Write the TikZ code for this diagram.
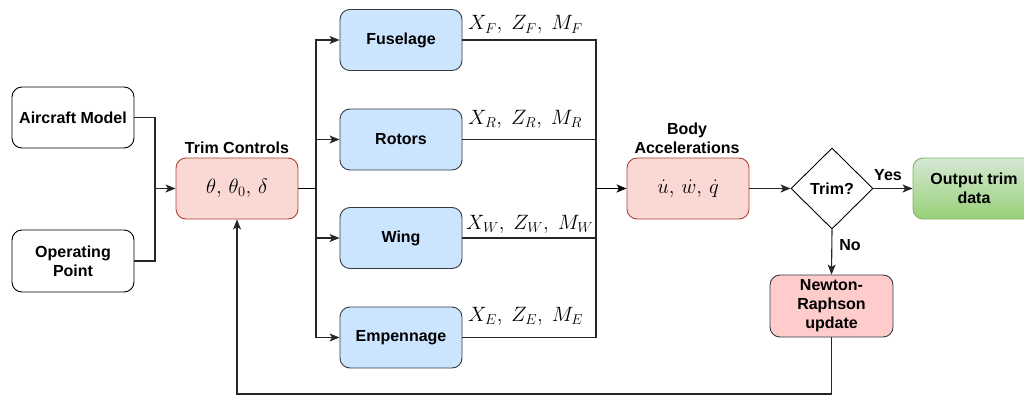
\documentclass[tikz,border=0pt]{standalone}
\usepackage{fontspec}
\setmainfont{Liberation Sans}
\usetikzlibrary{arrows.meta,shapes.geometric,positioning}
\definecolor{pinkfill}{HTML}{FAD9D5}
\definecolor{pinkline}{HTML}{AE4132}
\definecolor{bluefill}{HTML}{CCE5FF}
\definecolor{darkline}{HTML}{36393D}
\definecolor{nrfill}{HTML}{FFCCCC}
\definecolor{greentop}{HTML}{D5E8D4}
\definecolor{greenbot}{HTML}{97D077}
\definecolor{greenline}{HTML}{82B366}
\tikzset{
  base/.style={rounded corners=10pt, minimum width=122pt, minimum height=61pt, inner sep=0pt, align=center, font=\fontsize{16}{19}\selectfont\bfseries, line width=0.9pt},
  whitebox/.style={base, draw=black, fill=white},
  redbox/.style={base, draw=pinkline, fill=pinkfill, font=\fontsize{20}{24}\selectfont},
  bluebox/.style={base, draw=darkline, fill=bluefill},
  nrbox/.style={base, draw=darkline, fill=nrfill},
  greenbox/.style={base, draw=greenline, top color=greentop, bottom color=greenbot},
  decision/.style={diamond, draw=black, fill=white, minimum width=82pt, minimum height=81pt, inner sep=0pt, line width=0.9pt, font=\fontsize{16}{19}\selectfont\bfseries},
  lbl/.style={font=\fontsize{16}{19}\selectfont\bfseries, inner sep=0pt},
  mlbl/.style={font=\fontsize{20}{24}\selectfont, inner sep=0pt, anchor=base west},
  conn/.style={line width=1.1pt, draw=black!85},
  arr/.style={conn, -{Stealth[length=10pt,width=8pt,inset=2.5pt]}},
}
\begin{document}
\begin{tikzpicture}[x=1pt,y=-1pt]
\useasboundingbox (0,0) rectangle (1024,396);
\node[whitebox] (am) at (73,117.5) {Aircraft Model};
\node[whitebox, minimum height=62pt] (op) at (73,261) {Operating\\Point};
\node[redbox] (trim) at (237,188.5) {$\theta,\,\theta_0,\,\delta$};
\node[lbl] (trimlbl) at (237,148) {Trim Controls};
\node[bluebox] (fus) at (401,40) {Fuselage};
\node[bluebox] (rot) at (401,139.5) {Rotors};
\node[bluebox] (wing) at (401,238) {Wing};
\node[bluebox] (emp) at (401,337.5) {Empennage};
\node[redbox] (body) at (688,188.5) {$\dot u,\,\dot w,\,\dot q$};
\node[lbl, align=center] (bodylbl) at (687,138) {Body\\Accelerations};
\node[decision] (dec) at (832,188.5) {Trim?};
\node[greenbox] (out) at (974,188.5) {Output trim\\data};
\node[nrbox, minimum width=123pt, minimum height=62pt] (nr) at (831.5,306) {Newton-\\Raphson\\update};
\node[mlbl] (lf) at (468,30) {$X_F,\ Z_F,\ M_F$};
\node[mlbl] (lr) at (468,124) {$X_R,\ Z_R,\ M_R$};
\node[mlbl] (lw) at (466,229) {$X_W,\ Z_W,\ M_W$};
\node[mlbl] (le) at (468,321) {$X_E,\ Z_E,\ M_E$};
\node[lbl] (yes) at (888,175) {Yes};
\node[lbl] (no) at (850,245) {No};
\coordinate (jn) at (155,188.5);
\coordinate (bus) at (316,188.5);
\coordinate (obus) at (596,188.5);
\coordinate (fb) at (831.5,394);
\draw[conn] (am.east) -| (jn);
\draw[conn] (op.east) -| (jn);
\draw[arr] (jn) -- (trim.west);
\draw[conn, line width=1.8pt, draw=black] (trim.east) -- (bus);
\draw[arr] (bus) |- (fus.west);
\draw[arr] (bus) |- (rot.west);
\draw[arr] (bus) |- (wing.west);
\draw[arr] (bus) |- (emp.west);
\draw[conn] (fus.east) -| (obus);
\draw[conn] (rot.east) -| (obus);
\draw[conn] (wing.east) -| (obus);
\draw[conn] (emp.east) -| (obus);
\draw[arr, line width=1.8pt, draw=black] (obus) -- (body.west);
\draw[arr] (body.east) -- (dec.west);
\draw[arr] (dec.east) -- (out.west);
\draw[arr] (dec.south) -- (nr.north);
\draw[arr] (nr.south) -- (fb) -| (trim.south);
\end{tikzpicture}
\end{document}
